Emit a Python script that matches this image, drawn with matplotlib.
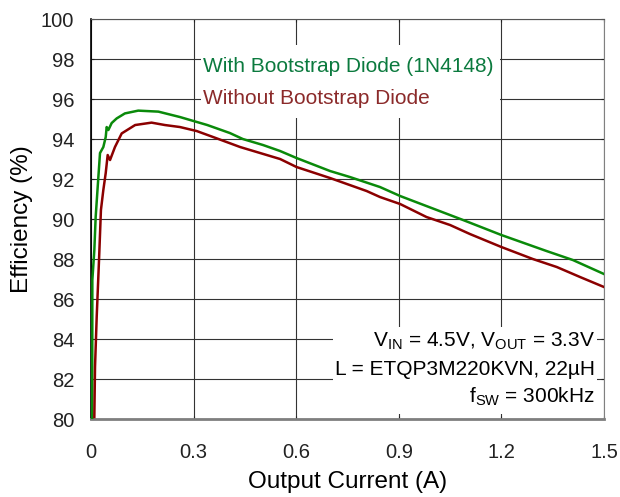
import matplotlib
matplotlib.use("Agg")
import matplotlib.pyplot as plt
from matplotlib.patches import Rectangle

plt.rcParams['font.family'] = ['Liberation Sans', 'DejaVu Sans']
plt.rcParams['mathtext.fontset'] = 'custom'
plt.rcParams['mathtext.rm'] = 'Liberation Sans'

# with bootstrap diode (1N4148)
with_current = [0.0035, 0.0039, 0.0097, 0.0136, 0.0195, 0.0263, 0.036, 0.043,
                0.0458, 0.0507, 0.0604, 0.075, 0.099, 0.138, 0.197, 0.26,
                0.3, 0.34, 0.406, 0.444, 0.503, 0.553, 0.601, 0.699, 0.757,
                0.845, 0.904, 1.088, 1.2, 1.332, 1.409, 1.5]
with_eff = [80.0, 86.95, 88.45, 90.1, 91.6, 93.3, 93.6, 94.1,
            94.6, 94.45, 94.8, 95.03, 95.28, 95.42, 95.37, 95.1,
            94.9, 94.7, 94.3, 94.0, 93.7, 93.4, 93.05, 92.4, 92.1,
            91.6, 91.15, 89.95, 89.2, 88.4, 87.95, 87.25]

# without bootstrap diode
without_current = [0.0097, 0.0117, 0.0166, 0.0234, 0.029, 0.036, 0.043,
                   0.0487, 0.0556, 0.07, 0.0897, 0.129, 0.177, 0.216, 0.26,
                   0.309, 0.357, 0.436, 0.514, 0.553, 0.601, 0.699, 0.806,
                   0.845, 0.904, 0.981, 1.05, 1.108, 1.2, 1.292, 1.362,
                   1.43, 1.5]
without_eff = [80.1, 82.6, 85.1, 87.95, 90.45, 91.45, 92.3,
               93.2, 92.95, 93.6, 94.28, 94.7, 94.82, 94.7, 94.6,
               94.4, 94.1, 93.6, 93.2, 93.0, 92.6, 92.05, 91.4,
               91.1, 90.75, 90.1, 89.7, 89.25, 88.6, 88.0, 87.6,
               87.1, 86.6]

x_ticks = [0, 0.3, 0.6, 0.9, 1.2, 1.5]
x_labels = ['0', '0.3', '0.6', '0.9', '1.2', '1.5']
y_ticks = list(range(80, 101, 2))

green = '#0a8a0a'
red = '#8b0000'

fig = plt.figure(figsize=(6.2, 4.97), dpi=100)
ax = fig.add_axes([0.1468, 0.1569, 0.8274, 0.8048])

ax.plot(with_current, with_eff, color=green, lw=1.8, zorder=3)
ax.plot(without_current, without_eff, color=red, lw=1.8, zorder=3)

ax.set_xlim(0, 1.5)
ax.set_ylim(80, 100)
ax.set_xticks(x_ticks)
ax.set_xticklabels(x_labels)
ax.set_yticks(y_ticks)
ax.set_axisbelow(True)
ax.grid(True, color='#333333', lw=0.8)
ax.tick_params(direction='in', length=2.5, width=0.8, top=True, right=True,
               labelsize=14.5, colors='#222222')
ax.tick_params(axis='x', pad=17)
ax.tick_params(axis='y', pad=12)

ax.spines['left'].set_color('black')
ax.spines['left'].set_linewidth(1.2)
ax.spines['bottom'].set_color('#7f7f7f')
ax.spines['bottom'].set_linewidth(2)
ax.spines['top'].set_color('#555555')
ax.spines['right'].set_color('#808080')

ax.set_xlabel('Output Current (A)', fontsize=17.5, labelpad=7)
ax.set_ylabel('Efficiency (%)', fontsize=17.5, labelpad=6)

# white boxes behind the texts hide the grid
ax.add_patch(Rectangle((0.2144, 0.7525), 0.5826, 0.1825, transform=ax.transAxes,
                       facecolor='white', edgecolor='none', zorder=1))
ax.add_patch(Rectangle((0.4717, 0.0125), 0.5143, 0.2175, transform=ax.transAxes,
                       facecolor='white', edgecolor='none', zorder=1))

ax.text(0.2183, 0.8668, 'With Bootstrap Diode (1N4148)', color='#0b7a3e',
        fontsize=15, transform=ax.transAxes, va='baseline', zorder=4)
ax.text(0.2183, 0.7875, 'Without Bootstrap Diode', color='#8b2a2a',
        fontsize=15, transform=ax.transAxes, va='baseline', zorder=4)

ax.text(0.9825, 0.1808, r'V$_{\mathrm{IN}}$ = 4.5V, V$_{\mathrm{OUT}}$ = 3.3V',
        fontsize=15, ha='right', va='baseline', transform=ax.transAxes, zorder=4)
ax.text(0.9825, 0.11, 'L = ETQP3M220KVN, 22µH',
        fontsize=15, ha='right', va='baseline', transform=ax.transAxes, zorder=4)
ax.text(0.9825, 0.0408, r'f$_{\mathrm{SW}}$ = 300kHz',
        fontsize=15, ha='right', va='baseline', transform=ax.transAxes, zorder=4)

fig.savefig('out.png', dpi=100)
